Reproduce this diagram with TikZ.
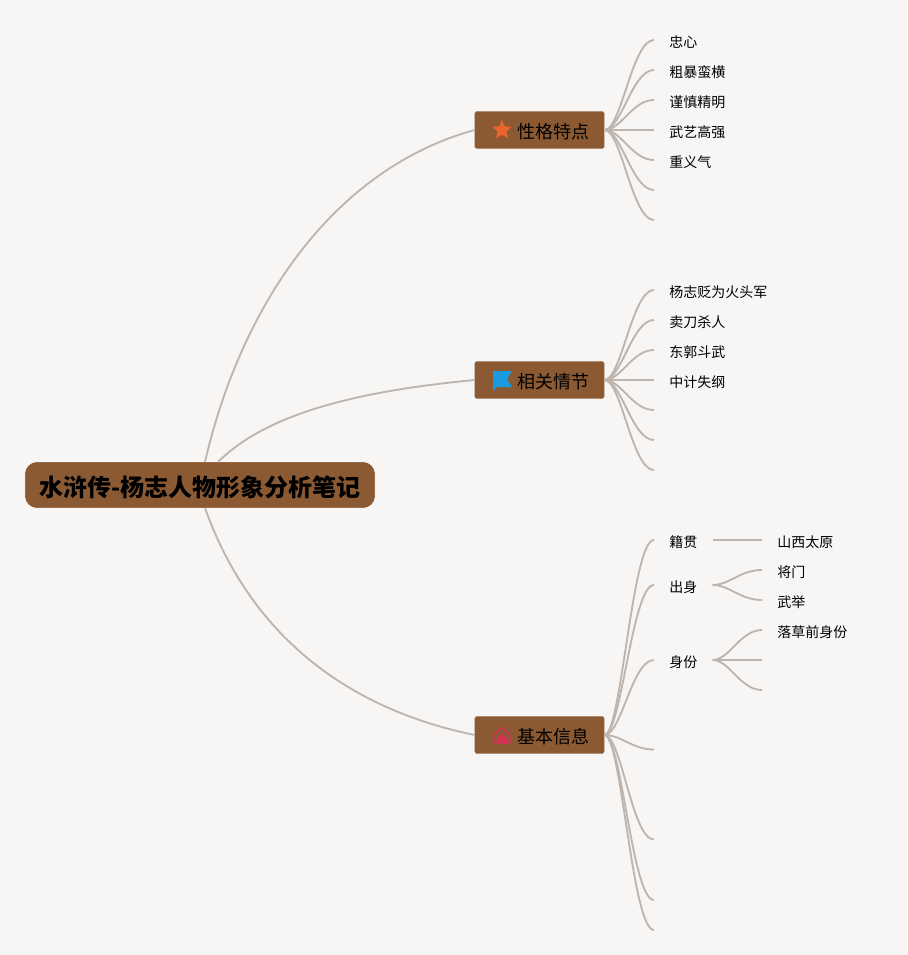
\documentclass[tikz,border=0pt]{standalone}
\usepackage{fontspec}
\setmainfont{Noto Sans CJK SC}
\usetikzlibrary{shapes.geometric}
\definecolor{paper}{HTML}{F8F6F5}
\definecolor{bark}{HTML}{8B5A32}
\definecolor{vine}{HTML}{BDB5AE}
\definecolor{staricon}{HTML}{E8642C}
\definecolor{flagicon}{HTML}{1A9BE0}
\definecolor{homeicon}{HTML}{D9305A}
\tikzset{
  rootbox/.style={draw=bark,fill=bark,rounded corners=9pt,minimum width=262pt,minimum height=34pt,inner sep=0pt,text height=18.5pt,text depth=1.9pt,font=\fontsize{18}{20}\selectfont\bfseries},
  branch/.style={draw=bark!85!white,fill=bark,rounded corners=1.2pt,minimum width=97pt,minimum height=27.5pt,inner sep=0pt,text height=15pt,text depth=1.74pt,font=\fontsize{13.5}{15}\selectfont},
  leaf/.style={anchor=west,inner xsep=11.25pt,inner ysep=0pt,text height=12pt,text depth=1pt,font=\fontsize{10.5}{12}\selectfont},
  link/.style={draw=vine,line width=1.4pt},
  twig/.style={draw=vine,line width=1.4pt,to path={.. controls +(17,0) and +(-22,0) .. (\tikztotarget)}}
}
\begin{document}
\begin{tikzpicture}[x=.75pt,y=-.75pt]
\useasboundingbox[fill=paper] (0,0) rectangle (907,955);
\node[rootbox] (title) at (200,485) {水浒传-杨志人物形象分析笔记};
\node[branch] (traits) at (539.5,130) {\hspace{21pt}性格特点};
\node[branch] (plots) at (539.5,380) {\hspace{21pt}相关情节};
\node[branch] (basics) at (539.5,735) {\hspace{21pt}基本信息};
\coordinate (titleA) at (205,462);
\coordinate (titleB) at (218,462);
\coordinate (titleC) at (205,508);
\draw[link] (titleA) .. controls (240,310) and (330,170) .. (traits.west);
\draw[link] (titleB) .. controls (270,410) and (370,390) .. (plots.west);
\draw[link] (titleC) .. controls (245,620) and (330,705) .. (basics.west);
\node[star,star points=5,star point ratio=2.2,fill=staricon,inner sep=0pt,minimum size=15.5pt] (staricon) at (502,130) {};
\fill[flagicon] (493,371) -- (512,371) -- (507,379) -- (512,387) -- (495,387) -- (495,390) -- (493,390) -- cycle;
\draw[homeicon,line width=1pt,line join=round] (494,735) -- (502,727.5) -- (510,735) -- (510,743) -- (494,743) -- cycle;
\fill[homeicon] (502,733) -- (497,739) -- (497,743) -- (507,743) -- (507,739) -- cycle;
\node[leaf] (t1) at (654,40) {忠心};
\node[leaf] (t2) at (654,70) {粗暴蛮横};
\node[leaf] (t3) at (654,100) {谨慎精明};
\node[leaf] (t4) at (654,130) {武艺高强};
\node[leaf] (t5) at (654,160) {重义气};
\coordinate (t6) at (654,190);
\coordinate (t7) at (654,220);
\foreach \n in {t1,t2,t3,t4,t5,t6,t7} \draw[twig] (traits.east) to (\n.west);
\node[leaf] (p1) at (654,290) {杨志贬为火头军};
\node[leaf] (p2) at (654,320) {卖刀杀人};
\node[leaf] (p3) at (654,350) {东郭斗武};
\node[leaf] (p4) at (654,380) {中计失纲};
\coordinate (p5) at (654,410);
\coordinate (p6) at (654,440);
\coordinate (p7) at (654,470);
\foreach \n in {p1,p2,p3,p4,p5,p6,p7} \draw[twig] (plots.east) to (\n.west);
\node[leaf] (b1) at (654,540) {籍贯};
\node[leaf] (b2) at (654,585) {出身};
\node[leaf] (b3) at (654,660) {身份};
\coordinate (b4) at (654,749.5);
\coordinate (b5) at (654,839.5);
\coordinate (b6) at (654,900);
\coordinate (b7) at (654,930);
\foreach \n in {b1,b2,b3,b4,b5,b6,b7} \draw[twig] (basics.east) to (\n.west);
\node[leaf] (home) at (762,540) {山西太原};
\node[leaf] (kin) at (762,570) {将门};
\node[leaf] (exam) at (762,600) {武举};
\node[leaf] (past) at (762,630) {落草前身份};
\coordinate (s2) at (762,660);
\coordinate (s3) at (762,690);
\draw[twig] (b1.east) to (home.west);
\draw[twig] (b2.east) to (kin.west);
\draw[twig] (b2.east) to (exam.west);
\draw[twig] (b3.east) to (past.west);
\draw[twig] (b3.east) to (s2);
\draw[twig] (b3.east) to (s3);
\end{tikzpicture}
\end{document}
